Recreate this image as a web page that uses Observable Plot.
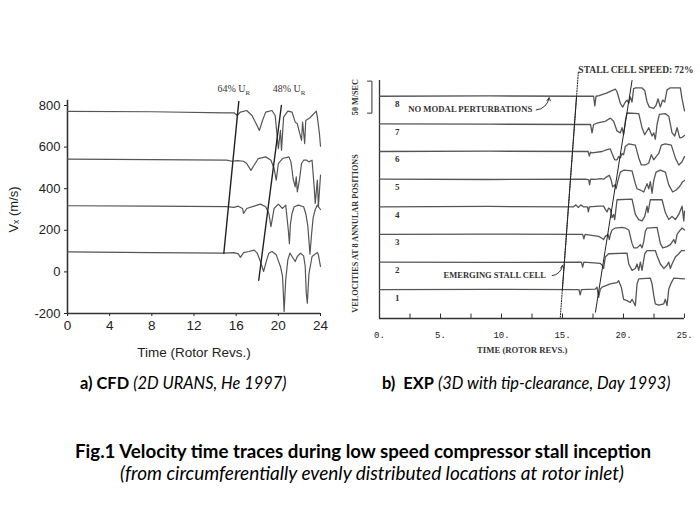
<!DOCTYPE html>
<html><head><meta charset="utf-8">
<script src="https://cdn.jsdelivr.net/npm/d3@7"></script>
<script src="https://cdn.jsdelivr.net/npm/@observablehq/plot@0.6"></script>
<style>
body{margin:0;background:#fff;width:700px;height:525px;position:relative;overflow:hidden;font-family:Lato,"Open Sans",sans-serif;color:#000;}
#left{position:absolute;left:0;top:70px;}
#right{position:absolute;left:345px;top:55px;}
.cap{position:absolute;white-space:nowrap;line-height:1.2;}
</style></head><body>
<div id="left"></div><div id="right"></div>
<div class="cap" style="left:80px;top:373px;font-size:16.4px"><b>a) CFD</b> <i>(2D URANS, He 1997)</i></div>
<div class="cap" style="left:382px;top:373px;font-size:16.4px"><b>b)&nbsp; EXP</b> <i>(3D with tip-clearance, Day 1993)</i></div>
<div class="cap" style="left:75px;top:440px;font-size:18.7px;font-weight:bold">Fig.1 Velocity time traces during low speed compressor stall inception</div>
<div class="cap" style="left:120px;top:462px;font-size:19px;font-style:italic">(from circumferentially evenly distributed locations at rotor inlet)</div>
<script>
// ---------- (a) CFD, He 1997 : Vx (m/s) vs time (rotor revs) ----------
const cfdXTicks = [0, 4, 8, 12, 16, 20, 24];
const cfdYTicks = [-200, 0, 200, 400, 600, 800];
const cfdTrace1 = [[0,772],[8,770],[15,765],[15.8,765],[16.1,752],[16.4,768],[17.0,776],[17.5,752],[17.9,712],[18.2,680],[18.5,728],[18.8,768],[19.4,776],[19.7,752],[19.9,648],[20.0,593],[20.2,680],[20.3,585],[20.5,744],[20.9,773],[21.3,768],[21.6,720],[21.8,712],[22.0,672],[22.2,632],[22.3,720],[22.5,617],[22.6,728],[23.0,741],[23.6,773],[23.7,744],[23.9,664],[24.0,604]];
const cfdTrace2 = [[0,542],[8,540],[15.1,537],[15.6,532],[16.1,535],[16.7,532],[17.0,521],[17.4,488],[17.7,513],[18.1,545],[18.8,553],[19.3,537],[19.6,497],[19.8,441],[20.0,521],[20.4,545],[21.0,553],[21.2,529],[21.4,449],[21.6,409],[21.7,457],[21.8,385],[22.0,441],[22.2,521],[22.4,537],[22.7,537],[22.9,529],[23.2,537],[23.4,409],[23.5,329],[23.7,441],[23.8,313],[24.0,465]];
const cfdTrace3 = [[0,318],[8,316],[15.1,314],[15.8,310],[16.2,316],[16.6,305],[16.7,281],[17.0,305],[17.7,316],[18.3,326],[18.8,313],[19.1,281],[19.3,217],[19.6,305],[20.0,326],[20.4,305],[20.7,321],[20.95,200],[21.05,136],[21.15,230],[21.3,281],[21.5,313],[21.9,321],[22.4,313],[22.6,281],[22.8,220],[23.0,85],[23.15,180],[23.3,260],[23.5,300],[23.7,321],[24.0,300]];
const cfdTrace4 = [[0,96],[8,93],[14.8,90],[15.8,93],[16.2,87],[16.4,70],[16.7,93],[17.2,98],[17.7,105],[18.0,90],[18.3,50],[18.6,2],[18.9,58],[19.1,90],[19.4,98],[19.8,82],[20.2,26],[20.4,-22],[20.55,-190],[20.7,-38],[20.9,58],[21.1,90],[21.6,50],[21.8,74],[22.1,90],[22.4,77],[22.55,26],[22.65,-102],[22.75,-150],[22.9,-10],[23.2,74],[23.7,93],[23.8,82],[24.0,26]];
const cfdStall64 = [[14.83,90],[16.25,820]];
const cfdStall48 = [[18.14,-40],[20.29,800]];
const cfdLabels = [{t:14.23, v:880, text:"64% U_R"}, {t:19.46, v:880, text:"48% U_R"}];

// ---------- (b) EXP, Day 1993 : velocities at 8 annular positions ----------
const expXTicks = [0, 5, 10, 15, 20, 25];
const expMinorTicks = [0, 2.5, 5, 7.5, 10, 12.5, 15, 17.5, 20, 22.5, 25];
const expPositions = [1, 2, 3, 4, 5, 6, 7, 8];
const expBaselines = [0, 43.2, 86.4, 129.6, 172.8, 216, 259.2, 302.4]; // m/s offsets
const expTrace1 = [[0,0],[9,0.5],[16.35,0],[16.45,-8],[16.55,0],[17.69,1],[17.83,4],[17.96,-12],[18.1,1],[18.24,4],[18.51,6],[18.92,9],[19.47,11],[19.6,14],[19.82,4],[20.01,-15],[20.29,-17],[20.56,-20],[20.7,-15],[20.84,-20],[20.97,-25],[21.11,9],[21.25,17],[22.2,18],[22.34,9],[22.48,-9],[22.61,-22],[22.89,-24],[23.3,-22],[23.43,-15],[23.57,-25],[23.71,1],[23.92,11],[24.12,18],[25.0,17]];
const expTrace2 = [[0,0],[9,-0.5],[16.55,0],[16.65,-8],[16.75,0],[18.1,-2],[18.24,-5],[18.37,-10],[18.51,8],[18.78,13],[20.29,14],[20.43,-3],[20.7,-13],[20.97,-10],[21.11,-3],[21.25,-13],[21.38,0],[21.52,-13],[21.74,13],[21.93,18],[22.61,18],[22.75,10],[23.02,-3],[23.3,-10],[23.57,-5],[23.71,0],[23.84,-10],[23.98,-3],[24.25,8],[24.53,13],[24.75,18],[25.0,18]];
const expTrace3 = [[0,0],[9,0.5],[16.65,0],[16.75,-7],[16.85,0],[17.96,-3],[18.24,-6],[18.37,-8],[18.51,-3],[18.73,0],[18.84,-8],[18.92,0],[19.06,7],[19.33,10],[19.88,11],[20.15,10],[20.43,7],[20.7,-14],[20.84,-21],[21.11,-21],[21.38,-16],[21.52,-21],[21.66,-11],[21.79,5],[21.93,10],[22.75,11],[23.02,-14],[23.21,-21],[23.57,-19],[23.84,-16],[24.12,-8],[24.25,-14],[24.39,0],[24.66,7],[24.8,10],[25.0,7]];
const expTrace4 = [[0,0],[9,0.5],[15.9,0],[16.1,3],[16.3,-1],[16.5,3],[16.7,0],[17.05,0],[17.12,-8],[17.2,0],[17.96,1],[18.37,1],[18.51,-4],[18.65,-8],[18.78,-2],[18.92,-4],[19.06,-17],[19.19,-12],[19.28,-20],[19.47,11],[20.7,12],[20.97,-12],[21.25,-20],[21.52,-22],[21.74,-15],[21.93,1],[22.01,-9],[22.2,11],[23.16,11],[23.43,-9],[23.71,-20],[23.98,-15],[24.25,-20],[24.53,-12],[24.8,1],[24.94,-22],[25.0,-7]];
const expTrace5 = [[0,0],[9,-0.5],[16.9,0],[17.15,-1],[17.22,-9],[17.3,0],[17.69,-0.5],[18.1,1],[18.37,0],[18.65,4],[18.84,6],[19.0,-2],[19.11,-12],[19.28,-9],[19.39,-15],[19.55,-2],[19.74,11],[20.01,14],[20.7,13],[20.97,-7],[21.11,-15],[21.38,-17],[21.66,-20],[21.93,-7],[22.07,-15],[22.2,-4],[22.34,-22],[22.48,-2],[22.67,11],[23.02,14],[23.43,11],[23.71,-9],[24.03,-20],[24.31,-17],[24.58,-12],[24.85,-4],[25.0,-2]];
const expTrace6 = [[0,0],[9,0.5],[17.1,0],[17.2,-7],[17.3,-1],[17.42,-2],[18.24,0],[18.65,3],[18.92,4],[19.06,-3],[19.28,-13],[19.47,-13],[19.6,-8],[19.74,-10],[19.88,-3],[20.01,-5],[20.15,8],[20.43,12],[20.97,10],[21.25,-10],[21.46,-21],[21.79,-21],[22.07,-18],[22.28,-5],[22.48,-13],[22.67,-8],[22.89,-3],[23.1,10],[23.43,12],[23.92,10],[24.25,-10],[24.53,-21],[24.8,-16],[25.0,-8]];
const expTrace7 = [[0,0],[9,-0.5],[16.87,-1],[17.3,-1],[17.42,-14],[17.55,-1],[17.96,2],[18.51,4],[18.92,9],[19.19,4],[19.47,-11],[19.74,-14],[19.88,-6],[20.01,-17],[20.15,4],[20.29,17],[21.25,16],[21.52,-6],[21.74,-17],[22.07,-6],[22.34,-19],[22.48,-14],[22.61,-24],[22.75,-1],[22.94,15],[23.43,16],[23.71,12],[23.98,-14],[24.2,-19],[24.39,-6],[24.61,-22],[24.8,-21],[25.0,-18]];
const expTrace8 = [[0,0],[9,0.5],[16.5,0],[17.55,0],[17.65,-15],[17.75,0],[18.0,1],[18.6,5],[19.33,11],[19.47,7],[19.74,-11],[19.93,-17],[20.15,-9],[20.29,-6],[20.43,-11],[20.56,-1],[20.7,-9],[20.83,12],[21.0,13],[21.52,13],[21.74,9],[21.93,-9],[22.12,-17],[22.48,-19],[22.67,-14],[22.83,-4],[23.02,-17],[23.21,-6],[23.38,-9],[23.57,10],[23.8,13],[24.66,13],[24.8,-4],[25.0,-23]];
const expStall72 = [[14.82,-43],[16.3,340]];
const expStall72Solid = [[14.99,0],[16.15,302]];
const expStallLate = [[17.7,-35],[20.7,327]];
const expScaleBar = [[-0.98,276],[-0.62,276],[-0.62,326],[-0.98,326]];

// ---------- build left ----------
const cfdData = [cfdTrace1, cfdTrace2, cfdTrace3, cfdTrace4]
  .flatMap((tr, i) => tr.map(([t, v]) => ({t, v, s: i})));
const pts = (arr) => arr.map(([t, v]) => ({t, v}));

const left = Plot.plot({
  width: 345, height: 300,
  marginLeft: 67, marginRight: 25, marginTop: 35, marginBottom: 57,
  x: {domain: [0, 24]},
  y: {domain: [-200, 800]},
  style: {fontFamily: "'Liberation Sans', Arial, sans-serif", fontSize: "13px", color: "#222", background: "transparent", overflow: "visible"},
  marks: [
    Plot.axisX({ticks: cfdXTicks, tickSize: 3, tickPadding: 4, label: "Time (Rotor Revs.)", labelAnchor: "center", labelArrow: "none", labelOffset: 43, fontSize: 13.5}),
    Plot.axisY({ticks: cfdYTicks, tickSize: 3, tickPadding: 4, tickFormat: d => String(d), label: "Vₓ (m/s)", labelAnchor: "center", labelArrow: "none", labelOffset: 59, fontSize: 13}),
    Plot.ruleX([0], {y1: -200, y2: 825, stroke: "#333", strokeWidth: 1.6}),
    Plot.ruleY([-200], {x1: 0, x2: 24, stroke: "#333", strokeWidth: 1.6}),
    Plot.line(cfdData, {x: "t", y: "v", z: "s", stroke: "#555", strokeWidth: 1.2}),
    Plot.line(pts(cfdStall64), {x: "t", y: "v", stroke: "#222", strokeWidth: 1.4}),
    Plot.line(pts(cfdStall48), {x: "t", y: "v", stroke: "#222", strokeWidth: 1.4}),
    Plot.text(cfdLabels, {x: "t", y: "v", text: "text", textAnchor: "start", fontFamily: "'Liberation Serif', serif", fontSize: 10, fill: "#333"})
  ]
});
document.getElementById("left").appendChild(left);
d3.select(left).selectAll("text").each(function () {
  const s = this.textContent;
  if (s.includes("_R")) {
    this.textContent = s.split("_R")[0];
    d3.select(this).append("tspan").attr("dy", 3).attr("font-size", "7px").text("R");
  }
});

// ---------- build right ----------
const expTraces = [expTrace1, expTrace2, expTrace3, expTrace4, expTrace5, expTrace6, expTrace7, expTrace8];
const expData = expTraces.flatMap((tr, i) => tr.map(([t, d]) => ({t, y: expBaselines[i] + d, s: i})));
const expNums = expPositions.map((p, i) => ({t: 1.45, y: expBaselines[i] - 12.5, text: String(p)}));
const serif = "'Liberation Serif', 'DejaVu Serif', serif";

const right = Plot.plot({
  width: 355, height: 310,
  marginLeft: 34, marginRight: 16, marginTop: 25, marginBottom: 47,
  x: {domain: [0, 25]},
  y: {domain: [-45, 327]},
  style: {fontFamily: serif, fontSize: "8px", color: "#222", background: "transparent", overflow: "visible"},
  marks: [
    Plot.axisX({ticks: expXTicks, tickSize: 0, tickPadding: 13, tickFormat: d => d + ".", fontFamily: "'Liberation Mono', monospace", fontSize: 9, label: null}),
    Plot.axisY({ticks: [], label: null}),
    Plot.ruleX(expMinorTicks, {y1: -45, y2: -38, stroke: "#333", strokeWidth: 1}),
    Plot.ruleX([0], {y1: -45, y2: 327, stroke: "#333", strokeWidth: 1.3}),
    Plot.ruleY([-45], {x1: 0, x2: 25, stroke: "#333", strokeWidth: 1.3}),
    Plot.line(expData, {x: "t", y: "y", z: "s", stroke: "#555", strokeWidth: 1.3}),
    Plot.line(pts(expStall72), {x: "t", y: "v", stroke: "#222", strokeWidth: 1, strokeDasharray: "1.2,1.4"}),
    Plot.line(pts(expStall72Solid), {x: "t", y: "v", stroke: "#222", strokeWidth: 1}),
    Plot.line(pts(expStallLate), {x: "t", y: "v", stroke: "#222", strokeWidth: 1}),
    Plot.line(pts(expScaleBar), {x: "t", y: "v", stroke: "#333", strokeWidth: 1}),
    Plot.text(expNums, {x: "t", y: "y", text: "text", fontFamily: serif, fontWeight: "bold", fontSize: 9, fill: "#333"}),
    Plot.text([{t: 2.35, y: 282, text: "NO MODAL PERTURBATIONS"}], {x: "t", y: "y", text: "text", textAnchor: "start", fontWeight: "bold", fontSize: 8.7, fill: "#333"}),
    Plot.arrow([{x1: 12.85, y1: 281, x2: 13.9, y2: 300}], {x1: "x1", y1: "y1", x2: "x2", y2: "y2", bend: -40, headLength: 5, stroke: "#333", strokeWidth: 1}),
    Plot.text([{t: 5.25, y: 22, text: "EMERGING STALL CELL"}], {x: "t", y: "y", text: "text", textAnchor: "start", fontWeight: "bold", fontSize: 8.5, fill: "#333"}),
    Plot.arrow([{x1: 14.15, y1: 22, x2: 15.0, y2: 38}], {x1: "x1", y1: "y1", x2: "x2", y2: "y2", bend: -40, headLength: 5, stroke: "#333", strokeWidth: 1}),
    Plot.text([{t: 16.3, y: 343, text: "STALL CELL SPEED: 72%"}], {x: "t", y: "y", text: "text", textAnchor: "start", fontWeight: "bold", fontSize: 9.5, fill: "#333"}),
    Plot.text([{t: -2.0, y: 301, text: "50 M/SEC"}], {x: "t", y: "y", text: "text", rotate: -90, fontWeight: "bold", fontSize: 8.2, fill: "#333"}),
    Plot.text([{t: -2.0, y: 88, text: "VELOCITIES AT 8 ANNULAR POSITIONS"}], {x: "t", y: "y", text: "text", rotate: -90, fontWeight: "bold", fontSize: 8.2, fill: "#333"}),
    Plot.text([{t: 11.7, y: -94, text: "TIME (ROTOR REVS.)"}], {x: "t", y: "y", text: "text", fontWeight: "bold", fontSize: 8.7, fill: "#333"})
  ]
});
document.getElementById("right").appendChild(right);
</script>
</body></html>
